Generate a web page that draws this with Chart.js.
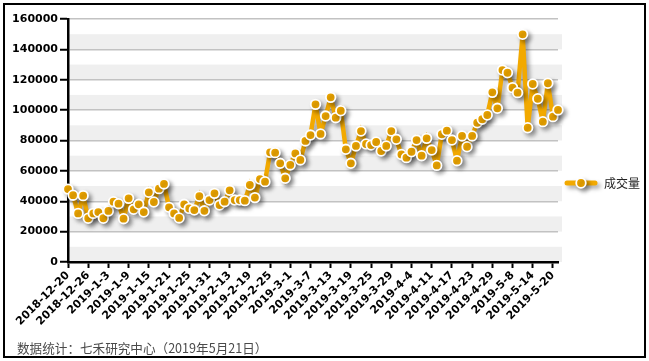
<!DOCTYPE html>
<html>
<head>
<meta charset="utf-8">
<script src="https://cdn.jsdelivr.net/npm/chart.js@4/dist/chart.umd.min.js"></script>
<style>
  body { margin: 0; background: #fff; }
  #wrap { position: relative; width: 649px; height: 361px; }
  #frame { position: absolute; left: 3px; top: 3px; width: 639px; height: 351px; border: 2px solid #000; }
  #chart { position: absolute; left: 0; top: 0; }
  #source { position: absolute; left: 17px; top: 339px; line-height: 18px; font: 12.6px/18px "Noto Sans CJK SC", sans-serif; color: #4a4a4a; white-space: nowrap; }
</style>
</head>
<body>
<div id="wrap">
  <div id="frame"></div>
  <canvas id="chart" width="649" height="361"></canvas>
  <div id="source">数据统计：七禾研究中心（2019年5月21日）</div>
</div>
<script>
// 成交量 走势
const dates = [
  '2018-12-20', '2018-12-21', '2018-12-24', '2018-12-25', '2018-12-26', '2018-12-27', '2018-12-28',
  '2019-1-2', '2019-1-3', '2019-1-4', '2019-1-7', '2019-1-8', '2019-1-9', '2019-1-10', '2019-1-11',
  '2019-1-14', '2019-1-15', '2019-1-16', '2019-1-17', '2019-1-18', '2019-1-21', '2019-1-22', '2019-1-23',
  '2019-1-24', '2019-1-25', '2019-1-28', '2019-1-29', '2019-1-30', '2019-1-31', '2019-2-1',
  '2019-2-11', '2019-2-12', '2019-2-13', '2019-2-14', '2019-2-15', '2019-2-18', '2019-2-19', '2019-2-20',
  '2019-2-21', '2019-2-22', '2019-2-25', '2019-2-26', '2019-2-27', '2019-2-28', '2019-3-1',
  '2019-3-4', '2019-3-5', '2019-3-6', '2019-3-7', '2019-3-8', '2019-3-11', '2019-3-12', '2019-3-13',
  '2019-3-14', '2019-3-15', '2019-3-18', '2019-3-19', '2019-3-20', '2019-3-21', '2019-3-22', '2019-3-25',
  '2019-3-26', '2019-3-27', '2019-3-28', '2019-3-29', '2019-4-1', '2019-4-2', '2019-4-3', '2019-4-4',
  '2019-4-8', '2019-4-9', '2019-4-10', '2019-4-11', '2019-4-12', '2019-4-15', '2019-4-16', '2019-4-17',
  '2019-4-18', '2019-4-19', '2019-4-22', '2019-4-23', '2019-4-24', '2019-4-25', '2019-4-26', '2019-4-29',
  '2019-4-30', '2019-5-6', '2019-5-7', '2019-5-8', '2019-5-9', '2019-5-10', '2019-5-13', '2019-5-14',
  '2019-5-15', '2019-5-16', '2019-5-17', '2019-5-20', '2019-5-21'
];

const volume = [
  48000, 44000, 32000, 43700, 28800, 32000, 32900, 28800, 33600, 39700,
  38400, 28500, 41900, 34700, 38000, 32900, 45900, 39500, 48300, 51400,
  36000, 32000, 29000, 38000, 35300, 34200, 43300, 33700, 40800, 45200,
  37500, 39700, 47200, 40800, 40800, 40400, 50700, 42400, 54600, 52900,
  72200, 72000, 65000, 55100, 63900, 71500, 67200, 79700, 83600, 103800,
  84300, 96100, 108400, 95000, 99600, 74200, 65000, 76400, 86200, 77700,
  77000, 79000, 73100, 76400, 86200, 80800, 70800, 68700, 72600, 80300,
  70000, 81400, 73700, 63600, 84100, 86500, 80300, 66700, 83000, 75900,
  83000, 91700, 94000, 96800, 111700, 101200, 126400, 124600, 114800, 111500,
  149900, 88400, 117200, 107500, 92400, 117700, 95700, 100100
];

const seriesName = '成交量';
const yTicks = [0, 20000, 40000, 60000, 80000, 100000, 120000, 140000, 160000];

const orange = '#F2A900';
const tickFont = { family: 'DejaVu Sans', size: 11, weight: 'bold' };

// 灰白相间的背景条
const bands = {
  id: 'bands',
  beforeDraw(chart) {
    const { ctx, chartArea, scales } = chart;
    const y = scales.y;
    ctx.save();
    ctx.fillStyle = '#efefef';
    for (let i = 0; i < yTicks.length - 1; i++) {
      const top = y.getPixelForValue(yTicks[i] + 10000);
      const bot = y.getPixelForValue(yTicks[i]);
      ctx.fillRect(chartArea.left, top, chartArea.right - chartArea.left + 4, bot - top);
    }
    ctx.restore();
  }
};

// 阴影
const shadow = {
  id: 'shadow',
  beforeDatasetsDraw(chart) {
    const ctx = chart.ctx;
    ctx.save();
    ctx.miterLimit = 3;
    ctx.shadowColor = 'rgba(0,0,0,0.35)';
    ctx.shadowBlur = 4;
    ctx.shadowOffsetX = 3;
    ctx.shadowOffsetY = 3;
  },
  afterDatasetsDraw(chart) {
    chart.ctx.restore();
  }
};

// 右侧图例
const sideLegend = {
  id: 'sideLegend',
  afterDraw(chart) {
    const ctx = chart.ctx;
    const x = chart.chartArea.right + 9;
    const y = 183;
    ctx.save();
    ctx.shadowColor = 'rgba(0,0,0,0.35)';
    ctx.shadowBlur = 4;
    ctx.shadowOffsetX = 3;
    ctx.shadowOffsetY = 3;
    ctx.strokeStyle = orange;
    ctx.lineWidth = 5;
    ctx.lineCap = 'round';
    ctx.beginPath();
    ctx.moveTo(x, y);
    ctx.lineTo(x + 28, y);
    ctx.stroke();
    ctx.beginPath();
    ctx.arc(x + 14, y, 4.8, 0, Math.PI * 2);
    ctx.fillStyle = orange;
    ctx.fill();
    ctx.lineWidth = 1.8;
    ctx.strokeStyle = '#fff';
    ctx.stroke();
    ctx.restore();
    ctx.save();
    ctx.fillStyle = '#222';
    ctx.font = '12px "Noto Sans CJK SC"';
    ctx.textBaseline = 'middle';
    ctx.fillText(seriesName, x + 37, y);
    ctx.restore();
  }
};

new Chart(document.getElementById('chart'), {
  type: 'line',
  data: {
    labels: dates,
    datasets: [{
      label: seriesName,
      data: volume,
      borderColor: orange,
      borderWidth: 4.5,
      backgroundColor: orange,
      pointBackgroundColor: orange,
      pointBorderColor: '#fff',
      pointBorderWidth: 1.8,
      pointRadius: 4.8,
      tension: 0,
      clip: false
    }]
  },
  options: {
    responsive: false,
    animation: false,
    events: [],
    layout: { padding: { left: 12, top: 19, right: 91, bottom: 19 } },
    plugins: {
      legend: { display: false },
      tooltip: { enabled: false }
    },
    scales: {
      x: {
        offset: false,
        afterFit: s => { s.height = 80; },
        border: { color: '#000', width: 2.5 },
        grid: {
          drawOnChartArea: false,
          tickLength: 6,
          tickWidth: 2,
          tickColor: c => (c.index % 4 === 0 ? '#000' : 'rgba(0,0,0,0)')
        },
        ticks: {
          autoSkip: false,
          minRotation: 45,
          maxRotation: 45,
          padding: 1,
          color: '#000',
          font: tickFont,
          callback: function (v, i) { return i % 4 === 0 ? this.getLabelForValue(v) : ''; }
        }
      },
      y: {
        min: 0,
        max: 160000,
        afterFit: s => { s.width = 56; },
        border: { color: '#000', width: 2.5 },
        grid: {
          color: '#c2c2c2',
          lineWidth: 1.5,
          tickLength: 8,
          tickWidth: 2,
          tickColor: c => (yTicks.includes(c.tick.value) ? '#000' : 'rgba(0,0,0,0)')
        },
        ticks: {
          stepSize: 10000,
          padding: 2,
          color: '#000',
          font: tickFont,
          callback: v => (yTicks.includes(v) ? String(v) : '')
        }
      }
    }
  },
  plugins: [bands, shadow, sideLegend]
});
</script>
</body>
</html>
